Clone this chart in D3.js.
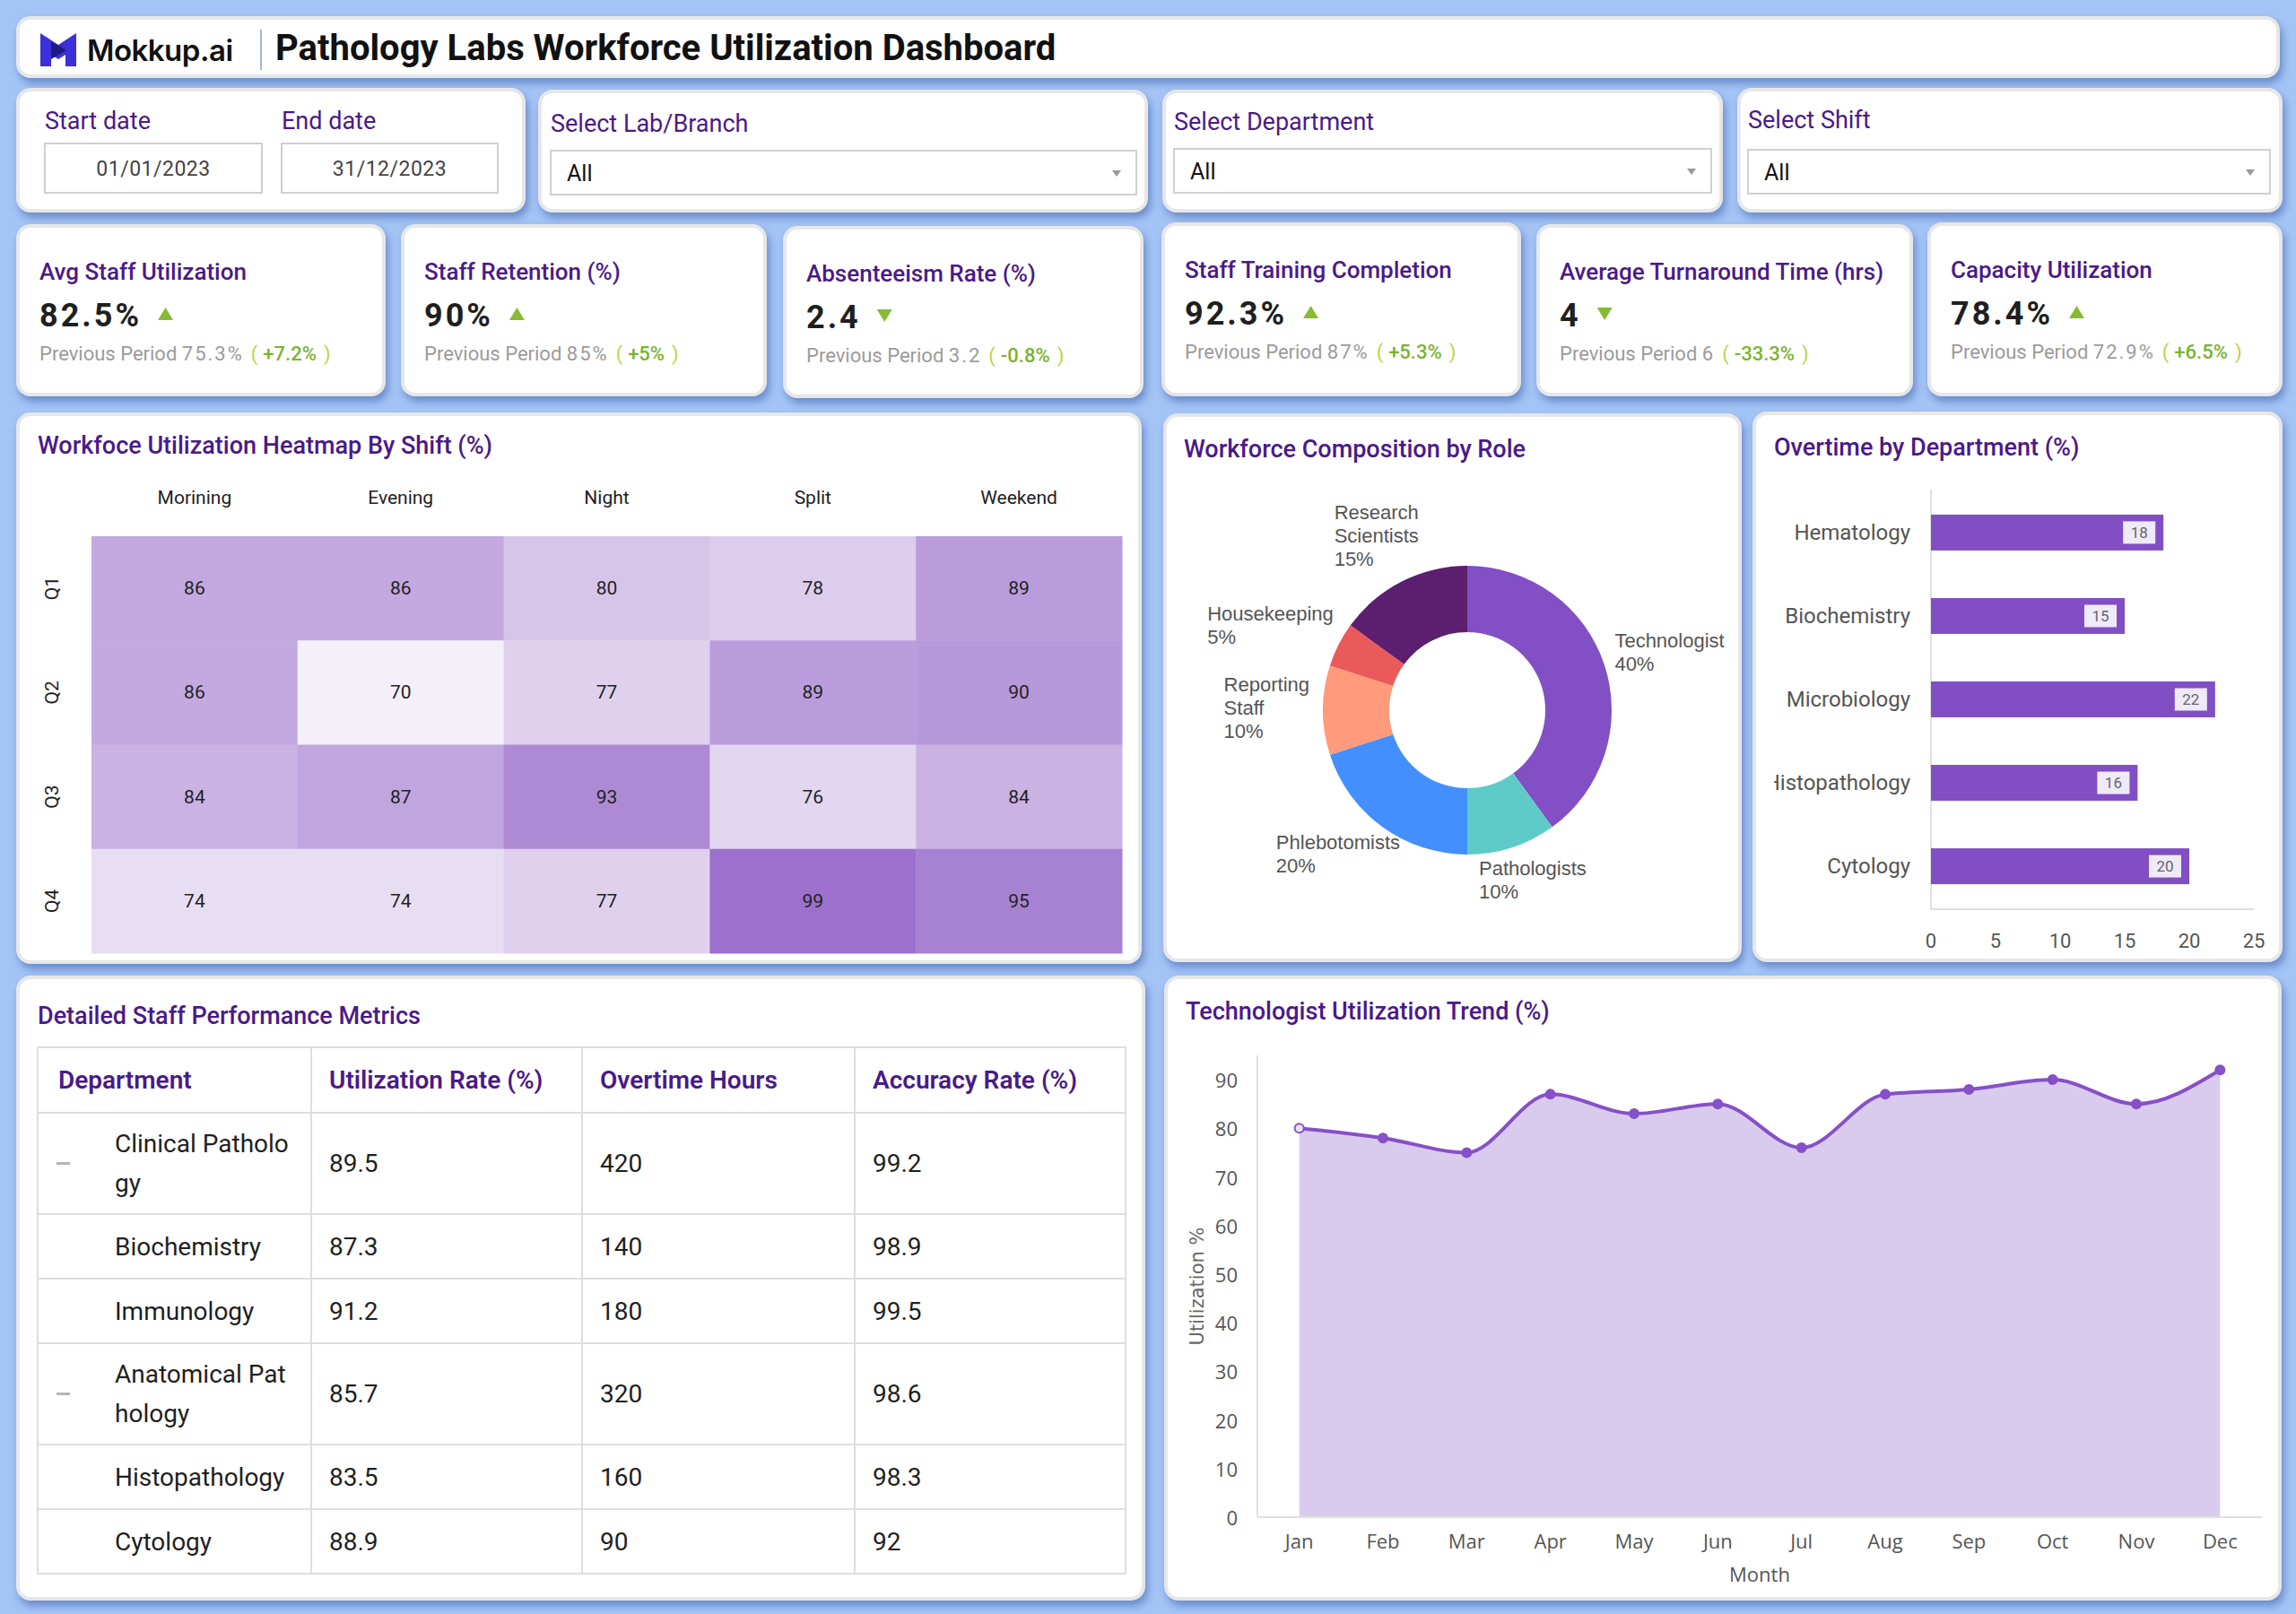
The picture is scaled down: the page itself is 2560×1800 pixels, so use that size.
<!DOCTYPE html>
<html>
<head>
<meta charset="utf-8">
<script src="https://cdn.jsdelivr.net/npm/d3@7"></script>
<style>
  html, body { margin: 0; padding: 0; }
  body { width: 2560px; height: 1800px; background: #a4c4f6; position: relative; overflow: hidden; font-family: Roboto, sans-serif; }
  .card { position: absolute; background: #fff; border: 4px solid #e7e7e7; border-radius: 16px; box-sizing: border-box; box-shadow: 3px 6px 9px rgba(60, 95, 170, 0.55); }
  #main { position: absolute; left: 0; top: 0; }
</style>
</head>
<body>
<svg id="main" width="2560" height="1800"></svg>
<script>
// ---- data ----
const kpiTitles = ['Avg Staff Utilization', 'Staff Retention (%)', 'Absenteeism Rate (%)', 'Staff Training Completion', 'Average Turnaround Time (hrs)', 'Capacity Utilization'];
const kpiValues = ['82.5%', '90%', '2.4', '92.3%', '4', '78.4%'];
const kpiTrend = ['up', 'up', 'down', 'up', 'down', 'up'];
const kpiPrev = ['75.3%', '85%', '3.2', '87%', '6', '72.9%'];
const kpiDelta = ['+7.2%', '+5%', '-0.8%', '+5.3%', '-33.3%', '+6.5%'];

const shifts = ['Morining', 'Evening', 'Night', 'Split', 'Weekend'];
const quarters = ['Q1', 'Q2', 'Q3', 'Q4'];
const heatValues = [
    [86, 86, 80, 78, 89],
    [86, 70, 77, 89, 90],
    [84, 87, 93, 76, 84],
    [74, 74, 77, 99, 95]
];

const roles = ['Technologist', 'Pathologists', 'Phlebotomists', 'Reporting Staff', 'Housekeeping', 'Research Scientists'];
const roleLines = [['Technologist'], ['Pathologists'], ['Phlebotomists'], ['Reporting', 'Staff'], ['Housekeeping'], ['Research', 'Scientists']];
const roleShare = [40, 10, 20, 10, 5, 15];
const roleColors = ['#824fc4', '#5ecbc8', '#448ffe', '#ff9a7c', '#ea5a5a', '#5c1e6e'];

const otDepts = ['Hematology', 'Biochemistry', 'Microbiology', 'Histopathology', 'Cytology'];
const otValues = [18, 15, 22, 16, 20];
const otTicks = [0, 5, 10, 15, 20, 25];

const tableHeaders = ['Department', 'Utilization Rate (%)', 'Overtime Hours', 'Accuracy Rate (%)'];
const tableDepts = ['Clinical Pathology', 'Biochemistry', 'Immunology', 'Anatomical Pathology', 'Histopathology', 'Cytology'];
const tableIsGroup = [true, false, false, true, false, false];
const utilRate = ['89.5', '87.3', '91.2', '85.7', '83.5', '88.9'];
const overtimeHours = ['420', '140', '180', '320', '160', '90'];
const accuracyRate = ['99.2', '98.9', '99.5', '98.6', '98.3', '92'];

const months = ['Jan', 'Feb', 'Mar', 'Apr', 'May', 'Jun', 'Jul', 'Aug', 'Sep', 'Oct', 'Nov', 'Dec'];
const techUtil = [80, 78, 75, 87, 83, 85, 76, 87, 88, 90, 85, 92];
const trendTicks = [0, 10, 20, 30, 40, 50, 60, 70, 80, 90];

// ---- layout ----
const PURPLE = '#4a1a88';
const cards = [
    [18, 18, 2524, 69],
    [18, 98, 568, 139], [600, 100, 680, 137], [1296, 100, 625, 137], [1937, 98, 608, 139],
    [18, 250, 412, 192], [447, 250, 408, 192], [873, 252, 402, 192], [1295, 248, 401, 194], [1713, 250, 420, 192], [2149, 248, 396, 194],
    [18, 460, 1255, 615], [1297, 461, 645, 612], [1954, 459, 591, 614],
    [18, 1088, 1259, 697], [1298, 1088, 1246, 697]
];
const kpiCards = cards.slice(5, 11);

d3.select('body').selectAll('div.card')
    .data(cards)
    .enter().insert('div', '#main')
    .attr('class', 'card')
    .style('left', d => d[0] + 'px')
    .style('top', d => d[1] + 'px')
    .style('width', d => d[2] + 'px')
    .style('height', d => d[3] + 'px');

const svg = d3.select('#main');

// ---- header ----
const logo = svg.append('g').attr('transform', 'translate(45,37)');
logo.append('path')
    .attr('d', 'M0,0 L20,13 L40,0 L40,37 L28,37 L28,24 L20,29 L12,24 L12,37 L0,37 Z')
    .attr('fill', '#3b30d9');
logo.append('path').attr('d', 'M12,9 L29,19 L12,29 Z').attr('fill', '#1c1a86');
svg.append('text').attr('x', 97).attr('y', 68)
    .attr('font-family', 'Inter, sans-serif').attr('font-weight', 600).attr('font-size', 33)
    .attr('letter-spacing', -0.5).attr('fill', '#111').text('Mokkup.ai');
svg.append('line').attr('x1', 291).attr('x2', 291).attr('y1', 33).attr('y2', 78)
    .attr('stroke', '#9fb8d8').attr('stroke-width', 2);
svg.append('text').attr('x', 307).attr('y', 67)
    .attr('font-weight', 700).attr('font-size', 40).attr('fill', '#111')
    .text('Pathology Labs Workforce Utilization Dashboard');

// ---- filters ----
function label(x, y, t, size) {
    return svg.append('text').attr('x', x).attr('y', y).attr('font-size', size || 27)
        .attr('fill', PURPLE).text(t);
}
label(50, 144, 'Start date');
label(314, 144, 'End date');
[[50, 242, '01/01/2023'], [314, 241, '31/12/2023']].forEach(([x, w, t]) => {
    svg.append('rect').attr('x', x).attr('y', 160).attr('width', w).attr('height', 55)
        .attr('fill', '#fff').attr('stroke', '#cfcfcf').attr('stroke-width', 2);
    svg.append('text').attr('x', x + w / 2).attr('y', 196).attr('text-anchor', 'middle')
        .attr('font-size', 23).attr('letter-spacing', 0.5).attr('fill', '#444').text(t);
});
const selects = [
    [614, 147, 168, 653, 'Select Lab/Branch'],
    [1309, 145, 166, 599, 'Select Department'],
    [1949, 143, 167, 582, 'Select Shift']
];
selects.forEach(([x, ly, by, w, t]) => {
    label(x, ly, t);
    svg.append('rect').attr('x', x).attr('y', by).attr('width', w).attr('height', 49)
        .attr('fill', '#fff').attr('stroke', '#d0d0d0').attr('stroke-width', 2);
    svg.append('text').attr('x', x + 18).attr('y', by + 34).attr('font-size', 25).attr('fill', '#111').text('All');
    const ax = x + w - 22, ay = by + 22;
    svg.append('path').attr('d', `M${ax - 5},${ay} L${ax + 5},${ay} L${ax},${ay + 7} Z`).attr('fill', '#999');
});

// ---- KPI cards ----
kpiTitles.forEach((t, i) => {
    const [cx, cy] = kpiCards[i];
    const x0 = cx + 26;
    const off = cy - 250;
    svg.append('text').attr('x', x0).attr('y', 312 + off).attr('font-size', 26).attr('font-weight', 500)
        .attr('fill', PURPLE).text(t);
    const val = svg.append('text').attr('x', x0).attr('y', 364 + off).attr('font-size', 36).attr('font-weight', 700)
        .attr('letter-spacing', 3).attr('fill', '#1f1f1f').text(kpiValues[i]);
    const tx = x0 + val.node().getComputedTextLength() + 18;
    const ty = 364 + off - 14;
    const tri = kpiTrend[i] === 'up'
        ? `M${tx},${ty + 7} L${tx + 17},${ty + 7} L${tx + 8.5},${ty - 7} Z`
        : `M${tx},${ty - 7} L${tx + 17},${ty - 7} L${tx + 8.5},${ty + 7} Z`;
    svg.append('path').attr('d', tri).attr('fill', '#86bb32');
    const prev = svg.append('text').attr('x', x0).attr('y', 402 + off).attr('font-size', 22).attr('fill', '#9b9b9b');
    prev.append('tspan').text('Previous Period ');
    prev.append('tspan').attr('letter-spacing', 2).text(kpiPrev[i]);
    prev.append('tspan').attr('dx', 8).attr('fill', '#b9d43f').text('(');
    prev.append('tspan').attr('dx', 6).attr('fill', '#7bb32e').attr('font-weight', 500).text(kpiDelta[i]);
    prev.append('tspan').attr('dx', 8).attr('fill', '#b9d43f').text(')');
});

// ---- heatmap ----
label(42, 506, 'Workfoce Utilization Heatmap By Shift (%)', 27).attr('font-weight', 500);
const hx = d3.scaleBand().domain(shifts).range([102, 1251]);
const hy = d3.scaleBand().domain(quarters).range([598, 1063]);
const hColor = d3.scaleLinear().domain([70, 99]).range(['#f4f0f9', '#9c70cc']);
const cells = quarters.flatMap((q, r) => shifts.map((s, c) => ({ q, s, v: heatValues[r][c] })));
const heat = svg.append('g');
heat.selectAll('rect').data(cells).enter().append('rect')
    .attr('x', d => hx(d.s)).attr('y', d => hy(d.q))
    .attr('width', hx.bandwidth() + 0.5).attr('height', hy.bandwidth() + 0.5)
    .attr('fill', d => hColor(d.v));
heat.selectAll('text.val').data(cells).enter().append('text')
    .attr('class', 'val')
    .attr('x', d => hx(d.s) + hx.bandwidth() / 2).attr('y', d => hy(d.q) + hy.bandwidth() / 2)
    .attr('text-anchor', 'middle').attr('dominant-baseline', 'central')
    .attr('font-size', 21).attr('fill', '#222').text(d => d.v);
heat.selectAll('text.col').data(shifts).enter().append('text')
    .attr('class', 'col')
    .attr('x', d => hx(d) + hx.bandwidth() / 2).attr('y', 562)
    .attr('text-anchor', 'middle').attr('font-size', 21).attr('fill', '#222').text(d => d);
heat.selectAll('text.row').data(quarters).enter().append('text')
    .attr('class', 'row')
    .attr('transform', d => `translate(58,${hy(d) + hy.bandwidth() / 2}) rotate(-90)`)
    .attr('text-anchor', 'middle').attr('dominant-baseline', 'central')
    .attr('font-size', 21).attr('fill', '#222').text(d => d);

// ---- donut ----
label(1320, 510, 'Workforce Composition by Role', 27).attr('font-weight', 500);
const dcx = 1636, dcy = 792;
const pie = d3.pie().sort(null).value(d => d.v);
const arc = d3.arc().innerRadius(87).outerRadius(161);
const slices = pie(roles.map((r, i) => ({ r, v: roleShare[i], c: roleColors[i], lines: roleLines[i] })));
const donut = svg.append('g').attr('transform', `translate(${dcx},${dcy})`);
donut.selectAll('path').data(slices).enter().append('path')
    .attr('d', arc).attr('fill', d => d.data.c);
slices.forEach(d => {
    const a = (d.startAngle + d.endAngle) / 2;
    const px = 176 * Math.sin(a), py = -176 * Math.cos(a);
    const lines = d.data.lines.concat([d.data.v + '%']);
    const t = donut.append('text').attr('font-family', '"Liberation Sans", Arial, sans-serif')
        .attr('font-size', 22).attr('fill', '#555');
    lines.forEach((l, k) => t.append('tspan').attr('x', 0).attr('y', k * 26).text(l));
    const w = t.node().getBBox().width;
    const h = lines.length * 26;
    const left = px - w * (1 - Math.sin(a)) / 2;
    const top = py - h * (1 + Math.cos(a)) / 2;
    t.attr('transform', `translate(${left},${top + 18})`);
});

// ---- overtime bars ----
label(1978, 508, 'Overtime by Department (%)', 27).attr('font-weight', 500);
const ox = d3.scaleLinear().domain([0, 25]).range([2153, 2513]);
const oy = d3.scaleBand().domain(otDepts).range([546, 1014]).paddingInner(0.57).paddingOuter(0.3);
const ot = svg.append('g');
ot.append('line').attr('x1', ox(0)).attr('x2', ox(0)).attr('y1', 546).attr('y2', 1014).attr('stroke', '#e0e0e0').attr('stroke-width', 2);
ot.append('line').attr('x1', ox(0)).attr('x2', ox(25)).attr('y1', 1014).attr('y2', 1014).attr('stroke', '#e0e0e0').attr('stroke-width', 2);
const otData = otDepts.map((d, i) => ({ d, v: otValues[i] }));
ot.selectAll('rect.bar').data(otData).enter().append('rect')
    .attr('class', 'bar')
    .attr('x', ox(0)).attr('y', d => oy(d.d))
    .attr('width', d => ox(d.v) - ox(0)).attr('height', oy.bandwidth())
    .attr('fill', '#814fc3');
ot.selectAll('rect.lbl').data(otData).enter().append('rect')
    .attr('class', 'lbl')
    .attr('x', d => ox(d.v) - 45).attr('y', d => oy(d.d) + oy.bandwidth() / 2 - 12.5)
    .attr('width', 36).attr('height', 25).attr('fill', '#efeaf8');
ot.selectAll('text.lbl').data(otData).enter().append('text')
    .attr('class', 'lbl')
    .attr('x', d => ox(d.v) - 27).attr('y', d => oy(d.d) + oy.bandwidth() / 2)
    .attr('text-anchor', 'middle').attr('dominant-baseline', 'central')
    .attr('font-size', 17).attr('fill', '#666').text(d => d.v);
svg.append('clipPath').attr('id', 'otclip').append('rect')
    .attr('x', 1978).attr('y', 459).attr('width', 560).attr('height', 600);
ot.append('g').attr('clip-path', 'url(#otclip)')
    .selectAll('text').data(otDepts).enter().append('text')
    .attr('x', 2130).attr('y', d => oy(d) + oy.bandwidth() / 2)
    .attr('text-anchor', 'end').attr('dominant-baseline', 'central')
    .attr('font-size', 24).attr('fill', '#555').text(d => d);
ot.selectAll('text.tick').data(otTicks).enter().append('text')
    .attr('class', 'tick')
    .attr('x', d => ox(d)).attr('y', 1057)
    .attr('text-anchor', 'middle').attr('font-size', 22).attr('fill', '#555').text(d => d);

// ---- table ----
label(42, 1142, 'Detailed Staff Performance Metrics', 27).attr('font-weight', 500);
const colX = [42, 347, 649, 953, 1255];
const tableTop = 1168, headH = 73, lineH = 44;
const tbl = svg.append('g');
const measure = tbl.append('text').attr('font-size', 28).attr('visibility', 'hidden');
function wrapChars(str, maxW) {
    const out = [];
    let cur = '';
    for (const ch of str) {
        measure.text(cur + ch);
        if (cur && measure.node().getComputedTextLength() > maxW) {
            out.push(cur);
            cur = ch;
        } else {
            cur += ch;
        }
    }
    out.push(cur);
    return out;
}
const rows = tableDepts.map((d, i) => ({
    lines: wrapChars(d, 200), group: tableIsGroup[i],
    vals: [utilRate[i], overtimeHours[i], accuracyRate[i]]
}));
measure.remove();
let ry = tableTop + headH;
rows.forEach(r => { r.y = ry; r.h = 72 + (r.lines.length - 1) * 41; ry += r.h; });
const tableBottom = ry;
tbl.append('rect').attr('x', colX[0]).attr('y', tableTop).attr('width', colX[4] - colX[0])
    .attr('height', tableBottom - tableTop).attr('fill', 'none').attr('stroke', '#dedede').attr('stroke-width', 2);
tbl.selectAll('line.v').data(colX.slice(1, 4)).enter().append('line')
    .attr('x1', d => d).attr('x2', d => d).attr('y1', tableTop).attr('y2', tableBottom)
    .attr('stroke', '#dedede').attr('stroke-width', 2);
tbl.selectAll('line.h').data(rows).enter().append('line')
    .attr('x1', colX[0]).attr('x2', colX[4]).attr('y1', d => d.y).attr('y2', d => d.y)
    .attr('stroke', '#dedede').attr('stroke-width', 2);
tbl.selectAll('text.head').data(tableHeaders).enter().append('text')
    .attr('x', (d, i) => i === 0 ? colX[0] + 23 : colX[i] + 20).attr('y', tableTop + headH / 2)
    .attr('dominant-baseline', 'central').attr('font-size', 28).attr('font-weight', 600)
    .attr('fill', PURPLE).text(d => d);
rows.forEach(r => {
    const mid = r.y + r.h / 2;
    if (r.group) {
        tbl.append('rect').attr('x', colX[0] + 21).attr('y', mid - 1.5).attr('width', 15).attr('height', 3).attr('fill', '#b5b5b5');
    }
    r.lines.forEach((l, k) => {
        tbl.append('text').attr('x', colX[0] + 86).attr('y', mid + (k - (r.lines.length - 1) / 2) * lineH)
            .attr('dominant-baseline', 'central').attr('font-size', 28).attr('fill', '#1f1f1f').text(l);
    });
    r.vals.forEach((v, k) => {
        tbl.append('text').attr('x', colX[k + 1] + 20).attr('y', mid)
            .attr('dominant-baseline', 'central').attr('font-size', 28).attr('fill', '#1f1f1f').text(v);
    });
});

// ---- trend ----
label(1322, 1137, 'Technologist Utilization Trend (%)', 27).attr('font-weight', 500);
const tx = d3.scalePoint().domain(months).range([1402, 2522]).padding(0.5);
const ty = d3.scaleLinear().domain([0, 95]).range([1692, 1177]);
const tg = svg.append('g');
const trendData = months.map((m, i) => ({ m, v: techUtil[i] }));
tg.append('path').datum(trendData)
    .attr('d', d3.area().x(d => tx(d.m)).y0(ty(0)).y1(d => ty(d.v)).curve(d3.curveMonotoneX))
    .attr('fill', '#d9cbed');
tg.append('line').attr('x1', 1402).attr('x2', 1402).attr('y1', 1177).attr('y2', 1692).attr('stroke', '#e0e0e0').attr('stroke-width', 2);
tg.append('line').attr('x1', 1402).attr('x2', 2522).attr('y1', 1692).attr('y2', 1692).attr('stroke', '#e0e0e0').attr('stroke-width', 2);
tg.append('path').datum(trendData)
    .attr('d', d3.line().x(d => tx(d.m)).y(d => ty(d.v)).curve(d3.curveMonotoneX))
    .attr('fill', 'none').attr('stroke', '#8650c8').attr('stroke-width', 4);
tg.selectAll('circle').data(trendData).enter().append('circle')
    .attr('cx', d => tx(d.m)).attr('cy', d => ty(d.v)).attr('r', 5)
    .attr('fill', (d, i) => i === 0 ? '#e9e0f6' : '#8650c8')
    .attr('stroke', '#8650c8').attr('stroke-width', 2);
tg.selectAll('text.yt').data(trendTicks).enter().append('text')
    .attr('class', 'yt')
    .attr('x', 1380).attr('y', d => ty(d))
    .attr('text-anchor', 'end').attr('dominant-baseline', 'central')
    .attr('font-family', '"Open Sans", sans-serif').attr('font-size', 22).attr('fill', '#555').text(d => d);
tg.selectAll('text.xt').data(months).enter().append('text')
    .attr('class', 'xt')
    .attr('x', d => tx(d)).attr('y', 1727)
    .attr('text-anchor', 'middle').attr('font-family', '"Open Sans", sans-serif')
    .attr('font-size', 22).attr('fill', '#555').text(d => d);
tg.append('text').attr('x', (1402 + 2522) / 2).attr('y', 1764).attr('text-anchor', 'middle')
    .attr('font-family', '"Open Sans", sans-serif').attr('font-size', 22).attr('fill', '#555').text('Month');
tg.append('text').attr('transform', `translate(1335,${(1177 + 1692) / 2}) rotate(-90)`)
    .attr('text-anchor', 'middle').attr('dominant-baseline', 'central')
    .attr('font-family', '"DejaVu Sans", sans-serif').attr('font-size', 21).attr('fill', '#666')
    .text('Utilization %');
</script>
</body>
</html>
